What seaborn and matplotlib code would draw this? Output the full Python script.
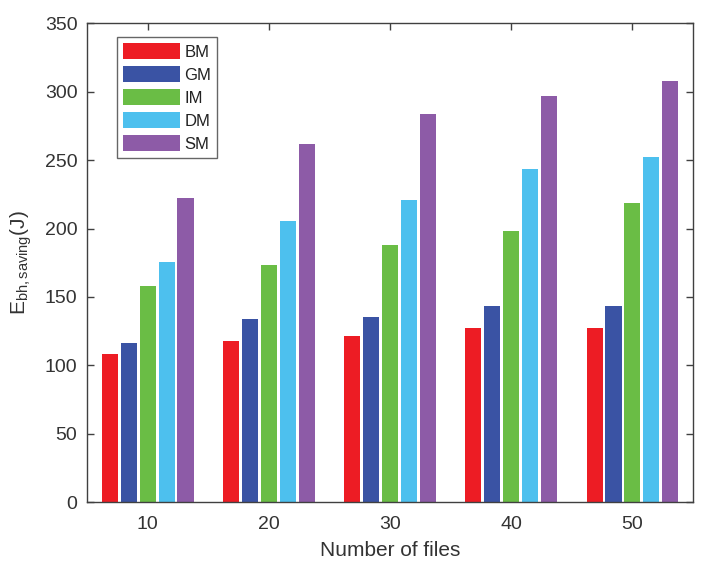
import matplotlib
matplotlib.use("Agg")
import matplotlib.pyplot as plt
import seaborn as sns
import pandas as pd

files = ["10", "20", "30", "40", "50"]
methods = ["BM", "GM", "IM", "DM", "SM"]
BM = [108, 118, 121.5, 127.5, 127.5]
GM = [116.5, 133.5, 135.5, 143, 143]
IM = [158, 173.5, 188, 198.5, 219]
DM = [175.5, 205.5, 221, 243.5, 252.5]
SM = [222.5, 262, 284, 297, 308]
colors = ["#ED1C24", "#3A53A4", "#6ABD45", "#4DC0EE", "#8D5BA7"]

rows = []
for m, vals in zip(methods, [BM, GM, IM, DM, SM]):
    for f, v in zip(files, vals):
        rows.append({"files": f, "method": m, "value": v})
df = pd.DataFrame(rows)

sns.set_style("ticks")
plt.rcParams["font.family"] = ["Liberation Sans", "DejaVu Sans"]
plt.rcParams["mathtext.fontset"] = "custom"
plt.rcParams["mathtext.rm"] = "Liberation Sans"
plt.rcParams["mathtext.it"] = "Liberation Sans"

fig = plt.figure(figsize=(7.2, 5.86), dpi=100)
ax = fig.add_axes([0.121, 0.1433, 0.8415, 0.8167])

sns.barplot(data=df, x="files", y="value", hue="method", order=files,
            hue_order=methods, palette=colors, width=0.78, gap=0.15,
            saturation=1, ax=ax, linewidth=0, edgecolor="none")

txt = "#404040"
ax.set_xlim(-0.5, 4.5)
ax.set_ylim(0, 350)
ax.set_yticks(range(0, 351, 50))
for s in ax.spines.values():
    s.set_visible(True)
    s.set_color(txt)
    s.set_linewidth(1.0)
ax.tick_params(axis="both", direction="in", top=True, right=True,
               colors=txt, labelcolor="#333333", labelsize=14, length=5, width=1)
ax.tick_params(axis="x", pad=10)
ax.tick_params(axis="y", pad=7)
ax.set_xlabel("Number of files", fontsize=15, color="#333333", labelpad=6)
ax.set_ylabel(r"$\mathregular{E_{bh,saving}(J)}$", fontsize=15, color="#333333", labelpad=8)

leg = ax.legend(loc="upper left", bbox_to_anchor=(0.0495, 0.971), borderaxespad=0,
                fontsize=12, frameon=True, fancybox=False, handlelength=3.4,
                handleheight=1.05, labelspacing=0.4, handletextpad=0.3,
                borderpad=0.35, title=None)
leg.get_frame().set_edgecolor(txt)
leg.get_frame().set_linewidth(1.0)
for t in leg.get_texts():
    t.set_color("#222222")

fig.savefig("out.png", dpi=100)
